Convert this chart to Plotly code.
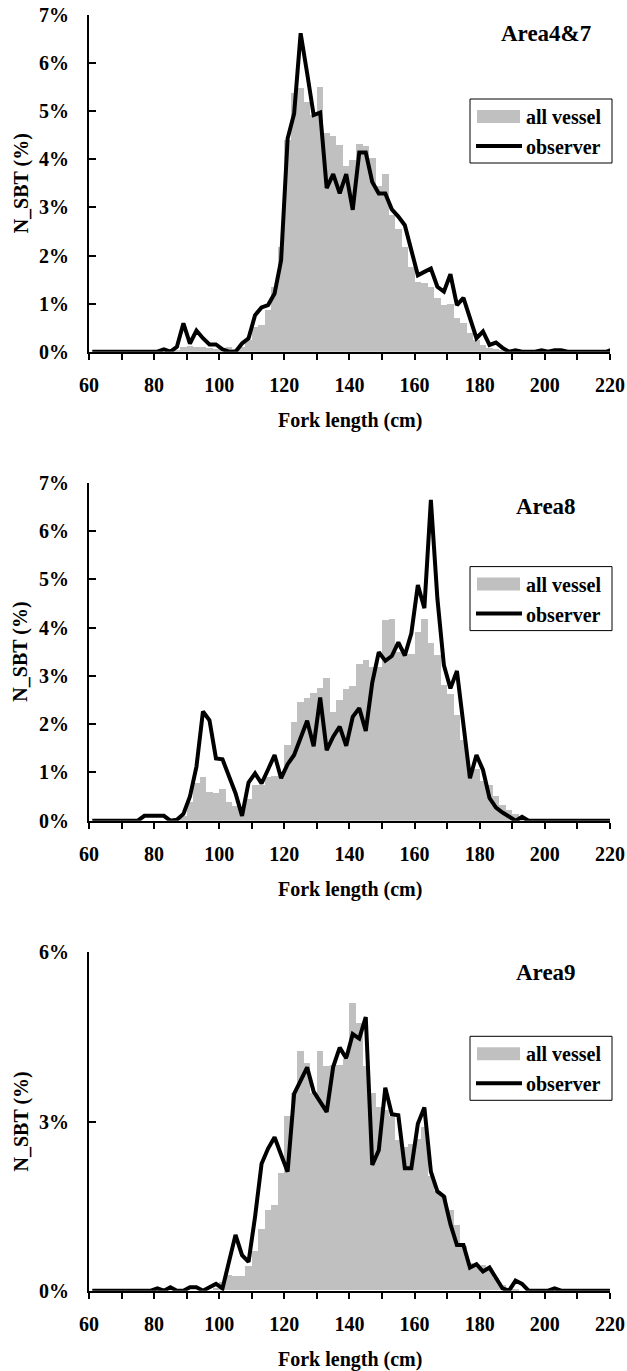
import plotly.graph_objects as go

# ---------------- data ----------------
# bin centres (2 cm length classes)
fork_length = list(range(61, 222, 2))  # 61 ... 221

area_titles = ["Area4&7", "Area8", "Area9"]

# Area4&7
bar_area47 = [0, 0, 0, 0, 0, 0, 0, 0, 0, 0,
              0, 0, 0, 0.03, 0.10, 0.12, 0.10, 0.10, 0.07, 0.05,
              0.08, 0.10, 0.05, 0.10, 0.25, 0.52, 0.55, 0.87, 1.35, 2.18,
              4.41, 5.38, 5.48, 5.20, 4.92, 5.51, 4.54, 4.48, 4.30, 3.86,
              3.98, 4.32, 4.28, 4.03, 3.44, 3.69, 2.84, 2.56, 2.18, 1.77,
              1.45, 1.42, 1.35, 1.11, 0.97, 1.00, 0.71, 0.59, 0.38, 0.24,
              0.14, 0.08, 0.05, 0.03, 0.01, 0, 0, 0, 0, 0,
              0, 0, 0, 0, 0, 0, 0, 0, 0, 0, 0]
obs_area47 = [0, 0, 0, 0, 0, 0, 0, 0, 0, 0,
              0, 0.05, 0, 0.10, 0.59, 0.17, 0.44, 0.28, 0.15, 0.15,
              0.05, 0, 0, 0.17, 0.28, 0.76, 0.92, 0.97, 1.21, 1.90,
              4.43, 4.95, 6.62, 5.79, 4.92, 4.97, 3.40, 3.69, 3.29, 3.69,
              2.95, 4.14, 4.14, 3.53, 3.29, 3.29, 2.96, 2.81, 2.63, 2.11,
              1.59, 1.66, 1.73, 1.35, 1.25, 1.61, 0.97, 1.12, 0.67, 0.28,
              0.42, 0.14, 0.19, 0.08, 0, 0.03, 0, 0, 0, 0.03,
              0, 0.03, 0.03, 0, 0, 0, 0, 0, 0, 0, 0.05]

# Area8
bar_area8 = [0, 0, 0, 0, 0, 0, 0, 0, 0, 0,
             0, 0, 0, 0, 0.10, 0.40, 0.79, 0.91, 0.60, 0.58,
             0.66, 0.39, 0.32, 0.20, 0.46, 0.74, 0.74, 0.92, 0.94, 0.94,
             1.57, 2.05, 2.46, 2.54, 2.65, 2.76, 2.96, 2.26, 2.50, 2.74,
             2.79, 3.26, 3.33, 3.19, 3.20, 4.16, 4.19, 3.50, 3.46, 3.45,
             3.91, 4.19, 3.68, 3.43, 2.81, 2.63, 2.19, 1.67, 1.00, 1.08,
             0.84, 0.74, 0.51, 0.34, 0.22, 0.15, 0.05, 0, 0, 0,
             0, 0, 0, 0, 0, 0, 0, 0, 0, 0, 0]
obs_area8 = [0, 0, 0, 0, 0, 0, 0, 0, 0.10, 0.10,
             0.10, 0.10, 0, 0.02, 0.14, 0.50, 1.12, 2.26, 2.08, 1.29,
             1.27, 0.91, 0.57, 0.10, 0.79, 0.98, 0.77, 1.06, 1.36, 0.88,
             1.17, 1.36, 1.74, 2.07, 1.54, 2.55, 1.46, 1.74, 1.95, 1.55,
             2.15, 2.33, 1.86, 2.86, 3.49, 3.31, 3.41, 3.69, 3.42, 3.88,
             4.88, 4.40, 6.64, 4.60, 3.22, 2.74, 3.10, 2.00, 0.88, 1.36,
             1.05, 0.47, 0.27, 0.17, 0.08, 0, 0.08, 0, 0, 0,
             0, 0, 0, 0, 0, 0, 0, 0, 0, 0, 0]

# Area9
bar_area9 = [0, 0, 0, 0, 0, 0, 0, 0, 0, 0,
             0, 0, 0, 0, 0, 0, 0, 0, 0, 0.05,
             0.15, 0.28, 0.26, 0.26, 0.44, 0.69, 1.08, 1.42, 1.52, 2.08,
             3.10, 3.50, 4.24, 4.03, 3.50, 4.25, 3.97, 4.00, 4.00, 4.10,
             5.10, 4.74, 3.97, 3.50, 3.26, 3.20, 3.10, 2.66, 2.54, 2.60,
             2.69, 2.90, 2.02, 1.76, 1.67, 1.43, 1.16, 0.78, 0.48, 0.46,
             0.45, 0.40, 0.22, 0.10, 0.05, 0.03, 0, 0, 0, 0,
             0, 0, 0, 0, 0, 0, 0, 0, 0, 0, 0]
obs_area9 = [0, 0, 0, 0, 0, 0, 0, 0, 0, 0,
             0.04, 0, 0.06, 0, 0, 0.06, 0.06, 0, 0.06, 0.12,
             0.04, 0.54, 0.99, 0.63, 0.51, 1.31, 2.25, 2.52, 2.72, 2.41,
             2.11, 3.49, 3.71, 3.96, 3.53, 3.35, 3.17, 3.97, 4.31, 4.12,
             4.55, 4.47, 4.85, 2.23, 2.49, 3.60, 3.13, 3.11, 2.17, 2.17,
             2.96, 3.25, 2.11, 1.76, 1.67, 1.18, 0.81, 0.81, 0.41, 0.47,
             0.34, 0.41, 0.22, 0.04, 0, 0.18, 0.12, 0, 0, 0,
             0, 0.04, 0, 0, 0, 0, 0, 0, 0, 0, 0]

bars = [bar_area47, bar_area8, bar_area9]
lines = [obs_area47, obs_area8, obs_area9]

y_max = [7, 7, 6]
y_ticks = [[0, 1, 2, 3, 4, 5, 6, 7], [0, 1, 2, 3, 4, 5, 6, 7], [0, 3, 6]]
x_ticks = list(range(60, 221, 10))
x_ticklabels = [str(v) if v % 20 == 0 else "" for v in x_ticks]

# ---------------- layout geometry (pixels) ----------------
W, H = 627, 1371
def xp(px):
    return px / W
def yp(py):
    return 1 - py / H

x_left, x_right = 89.0, 610.0
panels = [(15.0, 351.7), (482.6, 820.7), (952.3, 1290.7)]
title_offset = [18.5, 24.0, 20.0]

FONT = "Liberation Serif"
GRAY = "#C0C0C0"

fig = go.Figure()
layout = dict(
    width=W, height=H,
    margin=dict(l=0, r=0, t=0, b=0),
    paper_bgcolor="white", plot_bgcolor="white",
    showlegend=False, bargap=0,
    font=dict(family=FONT, size=20, color="black", weight="bold"),
)
annotations = []
shapes = []

for i in range(3):
    sx = "" if i == 0 else str(i + 1)
    fig.add_trace(go.Bar(x=fork_length, y=bars[i], width=2,
                         marker=dict(color=GRAY, line=dict(width=0)),
                         name="all vessel", xaxis="x" + sx, yaxis="y" + sx))
    fig.add_trace(go.Scatter(x=fork_length, y=lines[i], mode="lines",
                             line=dict(color="black", width=4),
                             name="observer", xaxis="x" + sx, yaxis="y" + sx))
    top, bot = panels[i]
    layout["xaxis" + sx] = dict(
        domain=[xp(x_left), xp(x_right)], anchor="y" + sx,
        range=[60, 60 + (x_right - x_left) / 3.256],
        tickmode="array", tickvals=x_ticks, ticktext=x_ticklabels,
        ticks="outside", ticklen=6, tickwidth=1.5, tickcolor="black",
        showline=True, linecolor="black", linewidth=2,
        showgrid=False, zeroline=False,
        tickfont=dict(family=FONT, size=20, color="black", weight="bold"),
        ticklabelstandoff=8, automargin=False,
    )
    layout["yaxis" + sx] = dict(
        domain=[yp(bot), yp(top)], anchor="x" + sx,
        range=[0, y_max[i]],
        tickmode="array", tickvals=y_ticks[i],
        ticktext=[f"{v}%" for v in y_ticks[i]],
        ticks="inside", ticklen=7, tickwidth=1.5, tickcolor="black",
        showline=True, linecolor="black", linewidth=2,
        showgrid=False, zeroline=False,
        tickfont=dict(family=FONT, size=20, color="black", weight="bold"),
        ticklabelstandoff=14, automargin=False,
    )
    # axis titles
    annotations.append(dict(text="N_SBT (%)", textangle=-90,
                            x=xp(21), y=yp((top + bot) / 2), xref="paper", yref="paper",
                            showarrow=False, xanchor="center", yanchor="middle",
                            font=dict(family=FONT, size=20, color="black", weight="bold")))
    annotations.append(dict(text="Fork length (cm)",
                            x=xp((x_left + x_right) / 2), y=yp(bot + 69), xref="paper", yref="paper",
                            showarrow=False, xanchor="center", yanchor="middle",
                            font=dict(family=FONT, size=20, color="black", weight="bold")))
    # panel title
    annotations.append(dict(text=area_titles[i],
                            x=xp(546), y=yp(top + title_offset[i]), xref="paper", yref="paper",
                            showarrow=False, xanchor="center", yanchor="middle",
                            font=dict(family=FONT, size=23, color="black", weight="bold")))
    # legend box (drawn manually)
    lt = top + 84
    shapes.append(dict(type="rect", xref="paper", yref="paper",
                       x0=xp(470), x1=xp(612), y0=yp(lt), y1=yp(lt + 64),
                       line=dict(color="black", width=1), fillcolor="white", layer="above"))
    shapes.append(dict(type="rect", xref="paper", yref="paper",
                       x0=xp(477), x1=xp(520), y0=yp(lt + 11), y1=yp(lt + 24),
                       line=dict(width=0), fillcolor=GRAY, layer="above"))
    shapes.append(dict(type="line", xref="paper", yref="paper",
                       x0=xp(476), x1=xp(522), y0=yp(lt + 47), y1=yp(lt + 47),
                       line=dict(color="black", width=4), layer="above"))
    annotations.append(dict(text="all vessel", x=xp(524), y=yp(lt + 18),
                            xref="paper", yref="paper", showarrow=False,
                            xanchor="left", yanchor="middle",
                            font=dict(family=FONT, size=20, color="black", weight="bold")))
    annotations.append(dict(text="observer", x=xp(524), y=yp(lt + 48),
                            xref="paper", yref="paper", showarrow=False,
                            xanchor="left", yanchor="middle",
                            font=dict(family=FONT, size=20, color="black", weight="bold")))

layout["annotations"] = annotations
layout["shapes"] = shapes
fig.update_layout(**layout)
fig.write_html("out.html",
               config={"displayModeBar": False},
               post_script="document.body.style.margin='0';document.body.style.overflow='hidden';")
